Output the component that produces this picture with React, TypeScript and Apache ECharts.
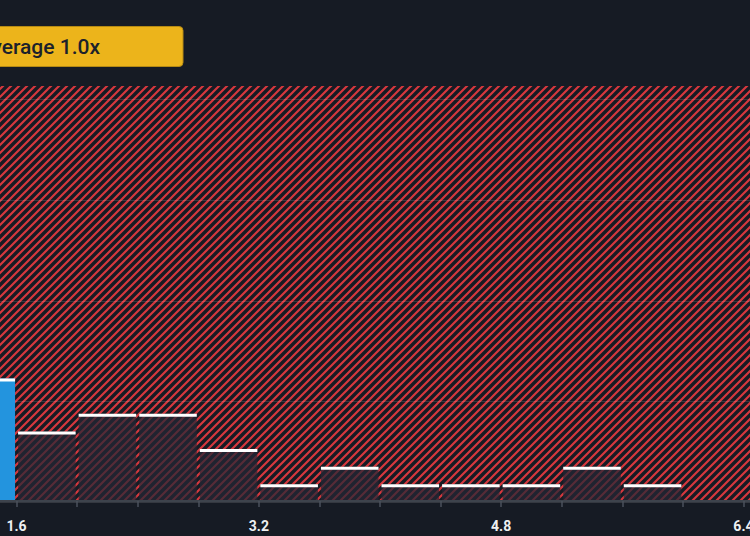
import React, { useEffect, useRef } from 'react';
import * as echarts from 'echarts';

// ---- data ----
const binStarts = [1.2, 1.6, 2.0, 2.4, 2.8, 3.2, 3.6, 4.0, 4.4, 4.8, 5.2, 5.6];
const binWidth = 0.4;
const counts = [7, 4, 5, 5, 3, 1, 2, 1, 1, 1, 2, 1];
const highlightBin = 1.2;
const xTickLabels = ['1.6', '3.2', '4.8', '6.4'];
const averageLabel = 'Average 1.0x';

const BG = '#161b24';
const RED = '#d6383e';
// the chart is wider than the window; it is shifted left so that it is cropped like the reference
const SHIFT = 47;
const CHART_W = 854;

function makeHatch(): HTMLCanvasElement {
  const c = document.createElement('canvas');
  c.width = 8;
  c.height = 8;
  const ctx = c.getContext('2d')!;
  ctx.fillStyle = BG;
  ctx.fillRect(0, 0, 8, 8);
  ctx.strokeStyle = RED;
  ctx.lineWidth = 2.2;
  ctx.beginPath();
  ctx.moveTo(-2, 10);
  ctx.lineTo(10, -2);
  ctx.moveTo(-2, 2);
  ctx.lineTo(2, -2);
  ctx.moveTo(6, 10);
  ctx.lineTo(10, 6);
  ctx.stroke();
  return c;
}

export default function App() {
  const ref = useRef<HTMLDivElement>(null);

  useEffect(() => {
    if (!ref.current) return;
    document.body.style.margin = '0';
    document.body.style.overflow = 'hidden';
    document.body.style.background = BG;
    const chart = echarts.init(ref.current, null, { renderer: 'svg' });
    const hatch = makeHatch();

    const data = binStarts.map((s, i) => [
      s,
      +(s + binWidth).toFixed(1),
      counts[i],
      Math.abs(s - highlightBin) < 1e-9 ? 1 : 0,
    ]);

    chart.setOption({
      animation: false,
      backgroundColor: BG,
      grid: { left: 0, right: 0, top: 99.6, bottom: 34, containLabel: false },
      xAxis: {
        type: 'value',
        min: 1.2,
        max: 6.8,
        interval: 0.4,
        offset: -1,
        axisLine: { show: true, lineStyle: { color: '#3d434c', width: 2 } },
        axisTick: { show: true, length: 6, lineStyle: { color: '#4a515b', width: 1.5 } },
        axisLabel: {
          margin: 18,
          color: '#eef0f2',
          fontFamily: 'Roboto',
          fontWeight: 'bold',
          fontSize: 14,
          formatter: (v: number) => {
            const s = v.toFixed(1);
            return xTickLabels.includes(s) ? s : '';
          },
        },
        splitLine: { show: false },
      },
      yAxis: {
        type: 'value',
        min: 0,
        max: 22.8,
        interval: 5.7,
        axisLine: { show: false },
        axisTick: { show: false },
        axisLabel: { show: false },
        splitLine: { show: true, lineStyle: { color: 'rgba(255,255,255,0.13)', width: 1 } },
      },
      graphic: [
        {
          type: 'rect',
          z: -10,
          silent: true,
          shape: { x: 0, y: 86, width: CHART_W, height: 415 },
          style: { fill: { image: hatch, repeat: 'repeat' } as any },
        },
        {
          type: 'group',
          z: 10,
          children: [
            {
              type: 'rect',
              shape: { x: SHIFT - 40, y: 26.5, width: 223, height: 40, r: 4 },
              style: { fill: '#ecb41b', stroke: '#b58a14', lineWidth: 1 },
            },
            {
              type: 'text',
              x: SHIFT - 22,
              y: 47,
              style: {
                text: averageLabel,
                font: '500 21px Roboto',
                fill: '#1b212b',
                verticalAlign: 'middle',
                align: 'left',
              },
            },
          ],
        },
      ],
      series: [
        {
          type: 'custom',
          data,
          encode: { x: [0, 1], y: 2 },
          renderItem: (params: any, api: any) => {
            const x0 = api.value(0);
            const x1 = api.value(1);
            const v = api.value(2);
            const hl = api.value(3) === 1;
            const pTop = api.coord([x0, v]);
            const pBot = api.coord([x1, 0]);
            const left = pTop[0] + 1.5;
            const right = pBot[0] - 1.5;
            const top = pTop[1];
            const bottom = pBot[1] - 2;
            return {
              type: 'group',
              children: [
                {
                  type: 'rect',
                  shape: { x: left, y: top, width: right - left, height: bottom - top },
                  style: { fill: hl ? '#2394de' : 'rgba(36,39,52,0.72)' },
                },
                {
                  type: 'rect',
                  shape: { x: left, y: top, width: right - left, height: 3 },
                  style: { fill: '#ffffff' },
                },
              ],
            };
          },
        },
      ],
    });

    return () => chart.dispose();
  }, []);

  return (
    <div
      ref={ref}
      style={{ position: 'fixed', left: -SHIFT, top: 0, width: CHART_W, height: 536, background: BG }}
    />
  );
}
